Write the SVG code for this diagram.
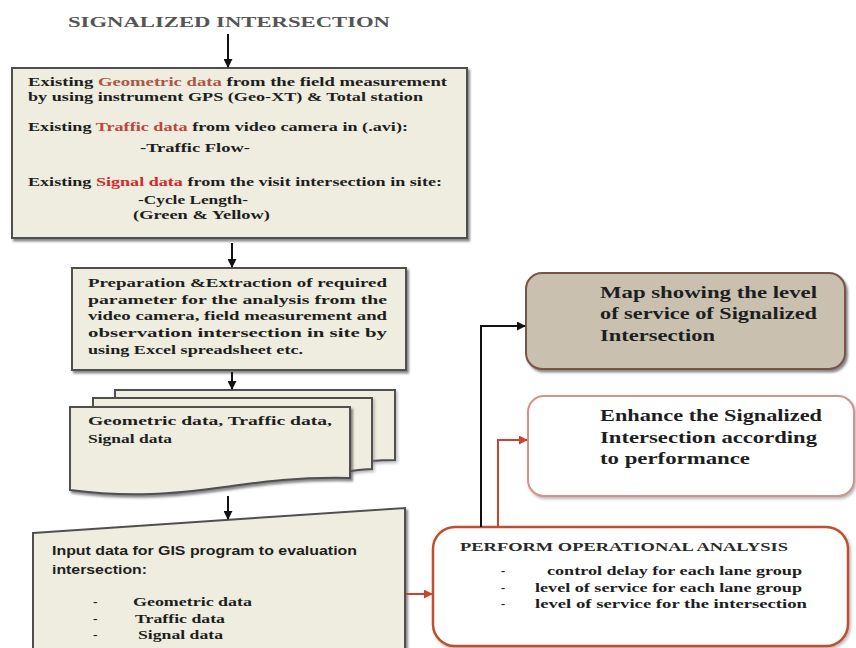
<svg xmlns="http://www.w3.org/2000/svg" width="856" height="648" viewBox="0 0 856 648">
<defs>
<filter id="sh" x="-5%" y="-5%" width="115%" height="120%">
<feDropShadow dx="2" dy="2.5" stdDeviation="1.2" flood-color="#555" flood-opacity="0.7"/>
</filter>
<filter id="sh2" x="-5%" y="-5%" width="115%" height="120%">
<feDropShadow dx="1.5" dy="2" stdDeviation="1.5" flood-color="#888" flood-opacity="0.6"/>
</filter>
<marker id="ab" viewBox="0 0 10 10" refX="9" refY="5" markerWidth="9" markerHeight="9" markerUnits="userSpaceOnUse" orient="auto">
<path d="M0,0 L10,5 L0,10 z" fill="#111"/>
</marker>
<marker id="ar" viewBox="0 0 10 10" refX="9" refY="5" markerWidth="9" markerHeight="9" markerUnits="userSpaceOnUse" orient="auto">
<path d="M0,0 L10,5 L0,10 z" fill="#c8442a"/>
</marker>
<style>
.box{fill:#eeeddf;stroke:#505050;stroke-width:2}
.t{font-family:"Liberation Serif","Times New Roman",serif;font-weight:bold;font-size:13.5px;fill:#1e1e1e}
.s{font-family:"Liberation Sans",Arial,sans-serif;font-weight:bold;font-size:13px;fill:#1e1e1e}
.big{font-family:"Liberation Serif","Times New Roman",serif;font-weight:bold;font-size:16px;fill:#1e1e1e}
.red{fill:#c0453d}
.red2{fill:#d42a2a}
.brn{fill:#b05545}
.cb{fill:none;stroke:#111;stroke-width:2}
.cr{fill:none;stroke:#c8442a;stroke-width:2}
</style>
</defs>
<rect width="856" height="648" fill="#ffffff"/>

<g id="title">
<text x="68" y="27" textLength="322" lengthAdjust="spacingAndGlyphs" style="font-family:'Liberation Serif','Times New Roman',serif;font-weight:bold;font-size:15.5px;fill:#555">SIGNALIZED INTERSECTION</text>
</g>

<g id="existing-data">
<rect class="box" x="12" y="68" width="455" height="170" filter="url(#sh)"/>
<text class="t" x="28" y="86" textLength="419" lengthAdjust="spacingAndGlyphs">Existing <tspan class="brn">Geometric data</tspan> from the field measurement</text>
<text class="t" x="28" y="101" textLength="395" lengthAdjust="spacingAndGlyphs">by using instrument GPS (Geo-XT) &amp; Total station</text>
<text class="t" x="28" y="131" textLength="380" lengthAdjust="spacingAndGlyphs">Existing <tspan class="red">Traffic data</tspan> from video camera in (.avi):</text>
<text class="t" x="140" y="152" textLength="110" lengthAdjust="spacingAndGlyphs">-Traffic Flow-</text>
<text class="t" x="28" y="186" textLength="414" lengthAdjust="spacingAndGlyphs">Existing <tspan class="red2">Signal data</tspan> from the visit intersection in site:</text>
<text class="t" x="138" y="204" textLength="110" lengthAdjust="spacingAndGlyphs">-Cycle Length-</text>
<text class="t" x="133" y="219" textLength="137" lengthAdjust="spacingAndGlyphs">(Green &amp; Yellow)</text>
</g>

<g id="preparation">
<rect class="box" x="72" y="268" width="334" height="102" filter="url(#sh)"/>
<text class="t" x="88" y="287" textLength="299" lengthAdjust="spacingAndGlyphs">Preparation &amp;Extraction of required</text>
<text class="t" x="88" y="304" textLength="299" lengthAdjust="spacingAndGlyphs">parameter for the analysis from the</text>
<text class="t" x="88" y="320" textLength="299" lengthAdjust="spacingAndGlyphs">video camera, field measurement and</text>
<text class="t" x="88" y="337" textLength="299" lengthAdjust="spacingAndGlyphs">observation intersection in site by</text>
<text class="t" x="88" y="354" textLength="215" lengthAdjust="spacingAndGlyphs">using Excel spreadsheet etc.</text>
</g>

<g id="data-documents">
<path class="box" d="M115,390 H395 V460 C370,460 360,462 350,464 V400 H115 Z" filter="url(#sh2)"/>
<path class="box" d="M93,398 H372 V469 C365,469 358,470 350,471 V407 H93 Z" filter="url(#sh2)"/>
<path class="box" d="M70,407 H350 V478 C260,476 220,492 150,494 C110,495 85,492 70,490 Z" filter="url(#sh)"/>
<text class="t" x="88" y="425" textLength="244" lengthAdjust="spacingAndGlyphs">Geometric data, Traffic data,</text>
<text class="t" x="88" y="443" textLength="84" lengthAdjust="spacingAndGlyphs">Signal data</text>
</g>

<g id="input-data">
<path class="box" d="M33,533 L405,508 L405,652 L33,652 Z" filter="url(#sh)"/>
<text class="s" x="52" y="555" textLength="305" lengthAdjust="spacingAndGlyphs">Input data for GIS program to evaluation</text>
<text class="s" x="52" y="574" textLength="95" lengthAdjust="spacingAndGlyphs">intersection:</text>
<text class="t" x="93" y="606">-</text>
<text class="t" x="133" y="606" textLength="119" lengthAdjust="spacingAndGlyphs">Geometric data</text>
<text class="t" x="93" y="623">-</text>
<text class="t" x="135" y="623" textLength="90" lengthAdjust="spacingAndGlyphs">Traffic data</text>
<text class="t" x="93" y="639">-</text>
<text class="t" x="138" y="639" textLength="85" lengthAdjust="spacingAndGlyphs">Signal data</text>
</g>

<g id="perform-analysis">
<rect x="433" y="527" width="415" height="119" rx="22" fill="#ffffff" stroke="#c0502d" stroke-width="2.5" filter="url(#sh2)"/>
<text x="460" y="551" textLength="328" lengthAdjust="spacingAndGlyphs" style="font-family:'Liberation Serif','Times New Roman',serif;font-weight:bold;font-size:13px;fill:#2a2a2a">PERFORM OPERATIONAL ANALYSIS</text>
<text class="t" x="501" y="575" style="font-size:12.5px">-</text>
<text class="t" x="547" y="575" textLength="255" lengthAdjust="spacingAndGlyphs" style="font-size:12.5px">control delay for each lane group</text>
<text class="t" x="501" y="592" style="font-size:12.5px">-</text>
<text class="t" x="535" y="592" textLength="267" lengthAdjust="spacingAndGlyphs" style="font-size:12.5px">level of service for each lane group</text>
<text class="t" x="501" y="608" style="font-size:12.5px">-</text>
<text class="t" x="535" y="608" textLength="272" lengthAdjust="spacingAndGlyphs" style="font-size:12.5px">level of service for the intersection</text>
</g>

<g id="map-los">
<rect x="526" y="273" width="319" height="96" rx="16" fill="#c9c0b0" stroke="#7a5446" stroke-width="2" filter="url(#sh)"/>
<text class="big" x="600" y="298" textLength="217" lengthAdjust="spacingAndGlyphs">Map showing the level</text>
<text class="big" x="600" y="319" textLength="217" lengthAdjust="spacingAndGlyphs">of service of Signalized</text>
<text class="big" x="600" y="341" textLength="115" lengthAdjust="spacingAndGlyphs">Intersection</text>
</g>

<g id="enhance">
<rect x="528" y="396" width="326" height="100" rx="16" fill="#ffffff" stroke="#d2948a" stroke-width="2" filter="url(#sh2)"/>
<text class="big" x="600" y="421" textLength="222" lengthAdjust="spacingAndGlyphs">Enhance the Signalized</text>
<text class="big" x="600" y="443" textLength="217" lengthAdjust="spacingAndGlyphs">Intersection according</text>
<text class="big" x="600" y="464" textLength="150" lengthAdjust="spacingAndGlyphs">to performance</text>
</g>

<g id="connectors">
<path class="cb" d="M228,34 V67" marker-end="url(#ab)"/>
<path class="cb" d="M232,243 V267" marker-end="url(#ab)"/>
<path class="cb" d="M232,372 V389" marker-end="url(#ab)"/>
<path class="cb" d="M228,496 V519" marker-end="url(#ab)"/>
<path class="cr" d="M406,594 H432" marker-end="url(#ar)"/>
<path class="cb" d="M481,527 V326 H525" marker-end="url(#ab)"/>
<path class="cr" d="M498,527 V440 H527" marker-end="url(#ar)"/>
</g>
</svg>
